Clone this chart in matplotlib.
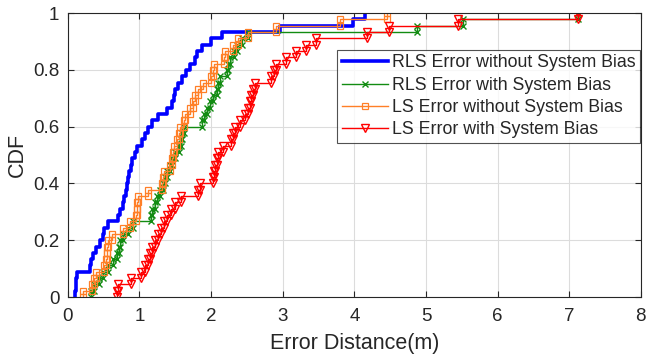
import numpy as np
import matplotlib
matplotlib.use("Agg")
import matplotlib.pyplot as plt

plt.rcParams['font.family'] = ['Liberation Sans', 'DejaVu Sans']

labels = ["RLS Error without System Bias", "RLS Error with System Bias",
          "LS Error without System Bias", "LS Error with System Bias"]

rls_no_bias = [0.10, 0.11, 0.12, 0.13, 0.31, 0.33, 0.35, 0.40, 0.45, 0.49,
               0.50, 0.56, 0.70, 0.73, 0.77, 0.78, 0.81, 0.82, 0.84, 0.85,
               0.88, 0.89, 0.94, 0.97, 1.03, 1.075, 1.12, 1.17, 1.26, 1.38,
               1.45, 1.48, 1.49, 1.54, 1.59, 1.65, 1.70, 1.78, 1.80, 1.87,
               2.00, 2.15, 2.96, 3.98, 4.15]
rls_bias = [0.33, 0.36, 0.44, 0.49, 0.56, 0.63, 0.68, 0.72, 0.73, 0.77,
            0.84, 0.91, 1.16, 1.18, 1.22, 1.25, 1.28, 1.33, 1.36, 1.38,
            1.42, 1.45, 1.49, 1.55, 1.58, 1.60, 1.62, 1.88, 1.90, 1.94,
            1.98, 2.03, 2.08, 2.10, 2.12, 2.22, 2.24, 2.26, 2.32, 2.36,
            2.43, 2.52, 4.87, 5.52, 7.12]
ls_no_bias = [0.21, 0.34, 0.37, 0.40, 0.50, 0.53, 0.54, 0.55, 0.56, 0.61,
              0.77, 0.87, 0.95, 0.96, 0.97, 0.98, 1.12, 1.31, 1.33, 1.34,
              1.42, 1.46, 1.47, 1.48, 1.52, 1.55, 1.56, 1.62, 1.64, 1.70,
              1.75, 1.77, 1.82, 1.89, 2.00, 2.03, 2.04, 2.18, 2.20, 2.31,
              2.38, 2.52, 2.91, 3.80, 4.45]
ls_bias = [0.69, 0.70, 0.88, 1.02, 1.08, 1.12, 1.15, 1.17, 1.22, 1.26,
           1.30, 1.34, 1.38, 1.44, 1.50, 1.58, 1.82, 1.84, 2.03, 2.04,
           2.05, 2.08, 2.10, 2.17, 2.28, 2.31, 2.33, 2.40, 2.47, 2.52,
           2.54, 2.56, 2.58, 2.61, 2.84, 2.88, 2.90, 3.05, 3.19, 3.33,
           3.47, 4.17, 4.48, 5.45, 7.12]

xticks = [0, 1, 2, 3, 4, 5, 6, 7, 8]
yticks = [0, 0.2, 0.4, 0.6, 0.8, 1]
ytick_labels = ["0", "0.2", "0.4", "0.6", "0.8", "1"]


def stair(samples):
    x = np.sort(np.asarray(samples, dtype=float))
    n = len(x)
    y = np.arange(1, n + 1) / n
    xs = np.repeat(x, 2)
    ys = np.empty(2 * n)
    ys[0::2] = np.concatenate([[0.0], y[:-1]])
    ys[1::2] = y
    return xs, ys


fig = plt.figure(figsize=(6.46, 3.64), dpi=100)
ax = fig.add_axes([0.105, 0.184, 0.887, 0.780])

styles = [
    dict(color='#0000FF', lw=2.6, marker=None),
    dict(color='#128C12', lw=1.0, marker='x', ms=4.5, mew=1.0),
    dict(color='#FF7F27', lw=1.0, marker='s', ms=4.5, mfc='none', mew=0.9),
    dict(color='#FF0000', lw=1.0, marker='v', ms=6, mfc='none', mew=1.0),
]
series = [rls_no_bias, rls_bias, ls_no_bias, ls_bias]
for data, lab, st in zip(series, labels, styles):
    xs, ys = stair(data)
    ax.plot(xs, ys, label=lab, **st)

ax.set_xlim(0, 8)
ax.set_ylim(0, 1)
ax.set_xticks(xticks)
ax.set_yticks(yticks)
ax.set_yticklabels(ytick_labels)
ax.grid(True, color='#DCDCDC', lw=0.8)
ax.set_axisbelow(True)
ax.tick_params(direction='in', top=True, right=True, length=4,
               labelsize=13.5, colors='#262626')
ax.tick_params(axis='x', pad=8)
ax.tick_params(axis='y', pad=6)
for s in ax.spines.values():
    s.set_color('#262626')
    s.set_linewidth(0.8)
ax.set_xlabel("Error Distance(m)", fontsize=15.5, color='#262626', labelpad=6)
ax.set_ylabel("CDF", fontsize=15.5, color='#262626', labelpad=4)

leg = ax.legend(loc='upper right', bbox_to_anchor=(0.998, 0.87),
                borderaxespad=0, fontsize=12.8, frameon=True, fancybox=False,
                edgecolor='#262626', handlelength=2.6, handletextpad=0.2,
                labelspacing=0.3, borderpad=0.25, labelcolor='#262626')
leg.get_frame().set_linewidth(0.8)

fig.savefig("out.png", dpi=100)
